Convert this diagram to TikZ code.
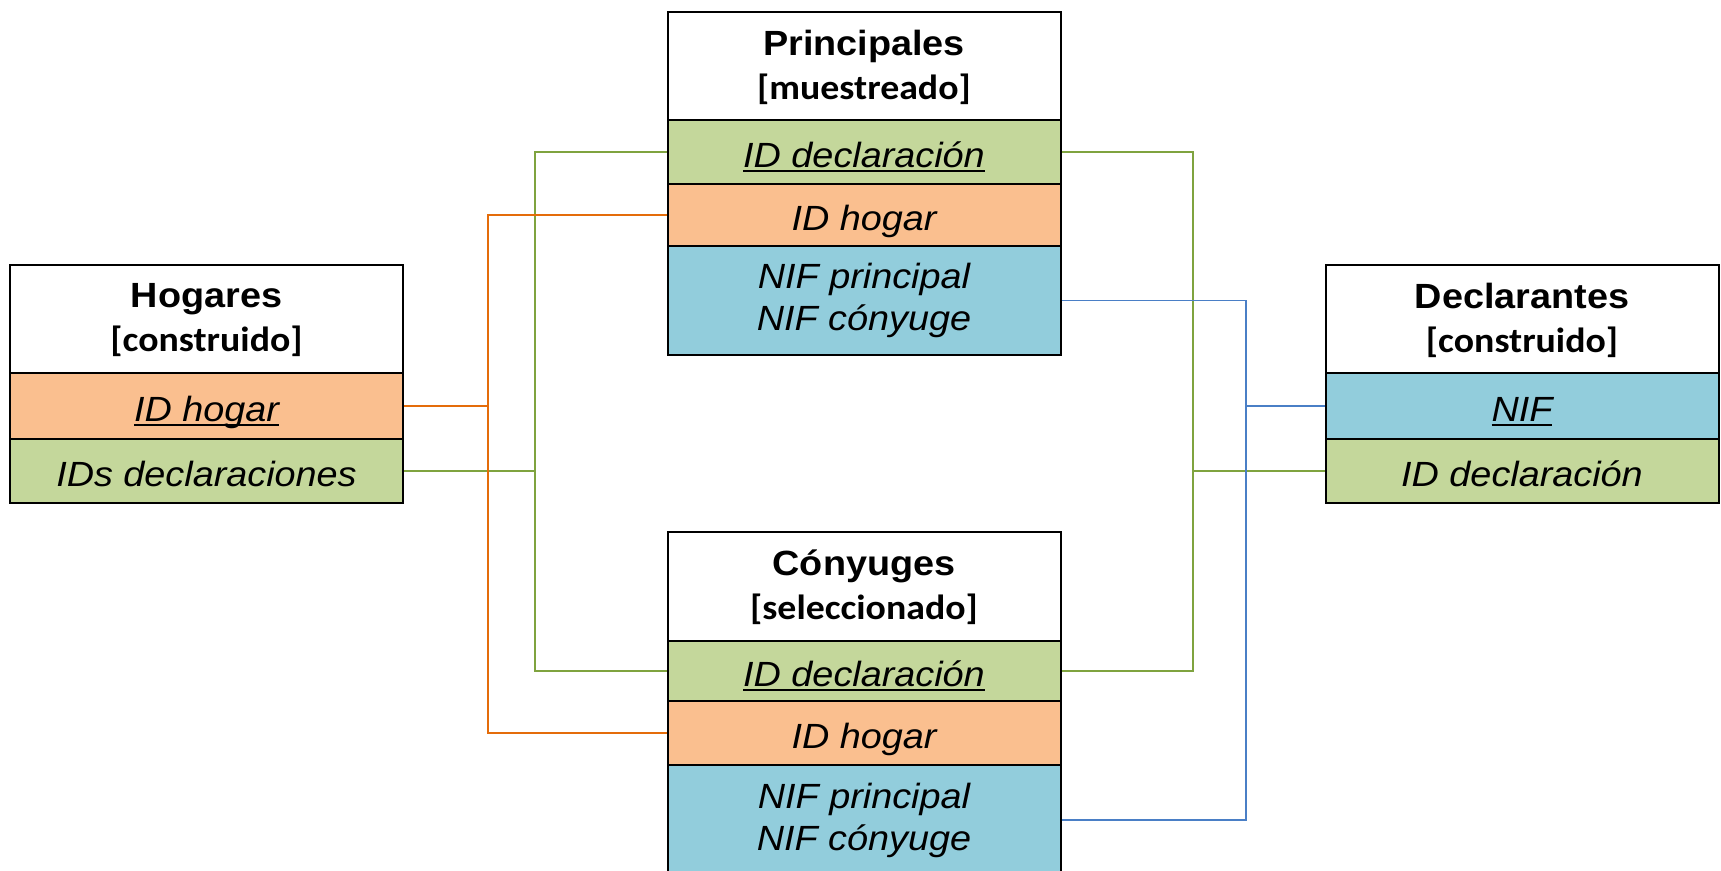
\documentclass[tikz,border=0pt]{standalone}
\usepackage{fontspec}
\setmainfont{Liberation Sans}
\newfontfamily\hdfont[FakeStretch=1.08]{Liberation Sans}
\newfontfamily\subfont[FakeStretch=1.08]{Carlito}
\newfontfamily\fldfont[FakeStretch=1.08]{Liberation Sans}
\usetikzlibrary{backgrounds}
\definecolor{rowgreen}{HTML}{C4D79B}
\definecolor{roworange}{HTML}{FABF8F}
\definecolor{rowblue}{HTML}{92CDDC}
\definecolor{lngreen}{HTML}{7FA33F}
\definecolor{lnorange}{HTML}{E46C0A}
\definecolor{lnblue}{HTML}{4A7FC6}
\newcommand\fldul[1]{\setbox0\hbox{#1}\rlap{\rule[-4.5pt]{\wd0}{1.5pt}}\box0}
\begin{document}
\begin{tikzpicture}[x=1pt,y=-1pt,
  box/.style={draw=black,line width=2pt,minimum width=393pt,inner sep=0pt,align=center},
  hdr/.style={box,fill=white,minimum height=110pt,font=\hdfont\bfseries\fontsize{35}{44}\selectfont},
  fld/.style={box,font=\fldfont\itshape\fontsize{35}{42}\selectfont},
  one/.style={fld,text height=32pt,text depth=2pt},
  conn/.style={line width=1.7pt}
]
\useasboundingbox (0,0) rectangle (1721,870);
\clip (0,0) rectangle (1721,870);

% Principales
\node[hdr] (pH) at (864,67) {Principales\\{\subfont [muestreado]}};
\node[one,fill=rowgreen,minimum height=64pt] (pG) at (864,152) {\fldul{ID declaración}};
\node[one,fill=roworange,minimum height=62pt] (pO) at (864,215) {ID hogar};
\node[fld,fill=rowblue,minimum height=109pt] (pB) at (864,300.5) {NIF principal\\NIF cónyuge};

% Conyuges
\node[hdr,minimum height=111pt] (cH) at (864,587.5) {Cónyuges\\{\subfont [seleccionado]}};
\node[one,fill=rowgreen,minimum height=60pt] (cG) at (864,671) {\fldul{ID declaración}};
\node[one,fill=roworange,minimum height=64pt] (cO) at (864,733) {ID hogar};
\node[fld,fill=rowblue,minimum height=110pt] (cB) at (864,820) {NIF principal\\NIF cónyuge};

% Hogares
\node[hdr] (hH) at (206.5,320) {Hogares\\{\subfont [construido]}};
\node[one,fill=roworange,minimum height=66pt] (hO) at (206.5,406) {\fldul{ID hogar}};
\node[one,fill=rowgreen,minimum height=64pt] (hG) at (206.5,471) {IDs declaraciones};

% Declarantes
\node[hdr] (dH) at (1522,320) {Declarantes\\{\subfont [construido]}};
\node[one,fill=rowblue,minimum height=66pt] (dN) at (1522,406) {\fldul{NIF}};
\node[one,fill=rowgreen,minimum height=64pt] (dG) at (1522,471) {ID declaración};

\coordinate (oL) at (488,0);
\coordinate (gL) at (535,0);
\coordinate (gR) at (1193,0);
\coordinate (bR) at (1246,0);

\begin{scope}[on background layer]
\fill[white] (0,0) rectangle (1721,870);
\draw[conn,lngreen] (pG.west) -- (pG.west -| gL) -- (cG.west -| gL) -- (cG.west);
\draw[conn,lngreen] (hG.east) -- (hG.east -| gL);
\draw[conn,lnorange] (pO.west) -- (pO.west -| oL) -- (cO.west -| oL) -- (cO.west);
\draw[conn,lnorange] (hO.east) -- (hO.east -| oL);
\draw[conn,lngreen] (pG.east) -- (pG.east -| gR) -- (cG.east -| gR) -- (cG.east);
\draw[conn,lngreen] (dG.west) -- (dG.west -| gR);
\draw[conn,lnblue] (pB.east) -- (pB.east -| bR) -- (cB.east -| bR) -- (cB.east);
\draw[conn,lnblue] (dN.west) -- (dN.west -| bR);
\end{scope}
\end{tikzpicture}
\end{document}
